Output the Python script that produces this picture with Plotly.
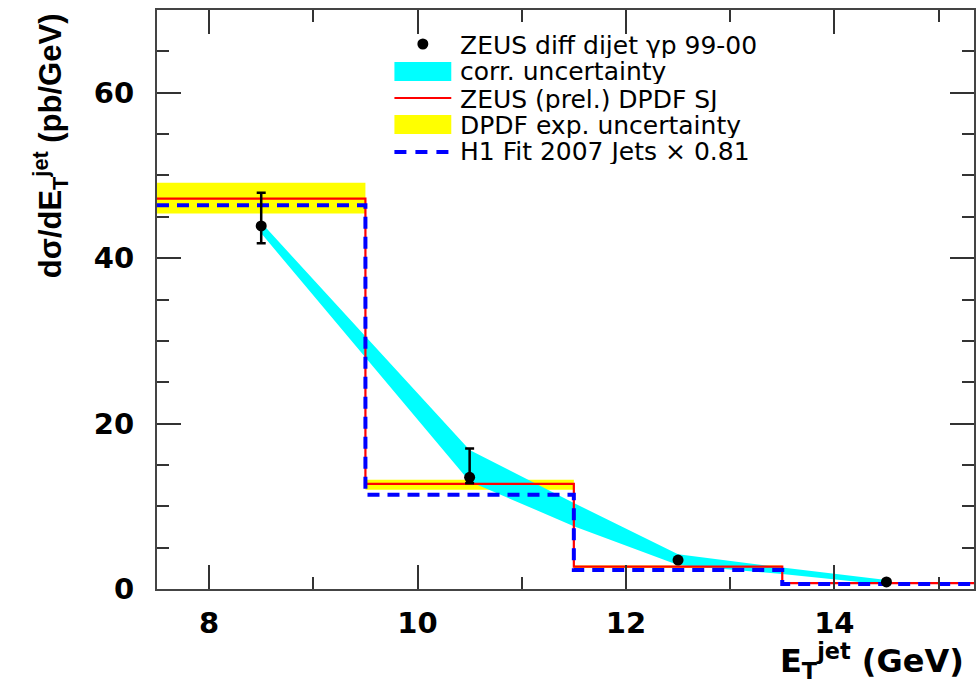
import plotly.graph_objects as go

# ---------------- data ----------------
bin_edges = [7.5, 9.5, 11.5, 13.5, 15.5]

data_x = [8.5, 10.5, 12.5, 14.5]
data_y = [43.9, 13.5, 3.5, 0.85]
data_err_up = [4.0, 3.5, 0.0, 0.0]
data_err_down = [2.1, 0.7, 0.0, 0.0]

band_x = [8.5, 10.5, 11.5, 12.5, 13.5, 14.5]
band_hi = [44.3, 16.8, 10.4, 4.2, 2.6, 1.1]
band_lo = [43.0, 13.0, 7.6, 2.9, 1.8, 0.5]

dpdf_sj = [47.2, 12.7, 2.7, 0.7]
dpdf_lo = [45.4, 12.0, 2.55, 0.6]
dpdf_hi = [49.1, 13.2, 2.85, 0.8]
h1_fit = [46.4, 11.4, 2.3, 0.6]

x_ticks = [8, 10, 12, 14]
y_ticks = [0, 20, 40, 60]

legend_labels = [
    "ZEUS diff dijet γp 99-00",
    "corr. uncertainty",
    "ZEUS (prel.) DPDF SJ",
    "DPDF exp. uncertainty",
    "H1 Fit 2007 Jets × 0.81",
]

# ---------------- figure ----------------
W, H = 976, 683
ML, MR, MT, MB = 157, 0, 10, 94
PW, PH = W - ML - MR, H - MT - MB


def px(xs):
    """screen pixel x -> paper x"""
    return (xs - ML) / PW


def py(ys):
    """screen pixel y -> paper y"""
    return (H - MB - ys) / PH


def steps(vals):
    return list(vals) + [vals[-1]]


FONT = "Liberation Sans, Arial, Helvetica, sans-serif"
WFONT = "DejaVu Sans, Verdana, sans-serif"

fig = go.Figure()

# yellow DPDF experimental uncertainty (step band)
fig.add_trace(go.Scatter(x=bin_edges, y=steps(dpdf_lo), mode="lines",
                         line=dict(width=0, shape="hv", color="#FFFF00"),
                         showlegend=False, hoverinfo="skip"))
fig.add_trace(go.Scatter(x=bin_edges, y=steps(dpdf_hi), mode="lines",
                         line=dict(width=0, shape="hv", color="#FFFF00"),
                         fill="tonexty", fillcolor="#FFFF00",
                         name=legend_labels[3], showlegend=False))

# cyan correlated uncertainty band
fig.add_trace(go.Scatter(x=band_x + band_x[::-1], y=band_hi + band_lo[::-1],
                         mode="lines", line=dict(width=0, color="#00FFFF"),
                         fill="toself", fillcolor="#00FFFF",
                         name=legend_labels[1], showlegend=False))

# red ZEUS DPDF SJ histogram
fig.add_trace(go.Scatter(x=bin_edges, y=steps(dpdf_sj), mode="lines",
                         line=dict(width=2.2, shape="hv", color="#FF0000"),
                         name=legend_labels[2], showlegend=False))

# blue dashed H1 fit histogram
fig.add_trace(go.Scatter(x=bin_edges, y=steps(h1_fit), mode="lines",
                         line=dict(width=4, shape="hv", color="#0000FF", dash="12px,8px"),
                         name=legend_labels[4], showlegend=False))

# data points
fig.add_trace(go.Scatter(x=data_x, y=data_y, mode="markers",
                         marker=dict(color="black", size=11, symbol="circle"),
                         error_y=dict(type="data", symmetric=False,
                                      array=data_err_up, arrayminus=data_err_down,
                                      color="black", thickness=2.5, width=4.5),
                         name=legend_labels[0], showlegend=False))

axis_common = dict(
    showline=True, linecolor="#444444", linewidth=2, mirror="ticks",
    ticks="inside", tickcolor="#333333", tickwidth=1.5,
    showgrid=False, zeroline=False,
    tickfont=dict(family=WFONT, size=29, color="black", weight="bold"),
)

fig.update_xaxes(range=[7.5, 15.34], tickvals=x_ticks, ticklen=24,
                 minor=dict(ticks="inside", dtick=1, tick0=7, ticklen=12,
                            tickcolor="#333333", tickwidth=1.5),
                 ticklabelstandoff=7, **axis_common)
fig.update_yaxes(range=[0, 70], tickvals=y_ticks, ticklen=24,
                 minor=dict(ticks="inside", dtick=5, tick0=0, ticklen=12,
                            tickcolor="#333333", tickwidth=1.5),
                 ticklabelstandoff=15, **axis_common)

annotations = []
shapes = []

# axis titles
annotations.append(dict(
    text="<b>dσ/dE<sub>T</sub><sup>jet</sup> (pb/GeV)</b>",
    xref="paper", yref="paper", x=px(50), y=py(146),
    xanchor="center", yanchor="middle", textangle=-90, showarrow=False,
    font=dict(family=FONT, size=31, color="black")))
annotations.append(dict(
    text="<b>E<sub>T</sub><sup>jet</sup> (GeV)</b>",
    xref="paper", yref="paper", x=px(968), y=py(661),
    xanchor="right", yanchor="middle", showarrow=False, height=40,
    font=dict(family=WFONT, size=32, color="black")))

# manual legend
row_y = [44, 71, 98, 124, 151]
sym_x0, sym_x1 = 395, 452
for lab, yy in zip(legend_labels, row_y):
    annotations.append(dict(
        text=lab, xref="paper", yref="paper", x=px(459), y=py(yy + 1),
        xanchor="left", yanchor="middle", showarrow=False, height=25,
        font=dict(family=WFONT, size=25, color="black")))

# marker symbol
shapes.append(dict(type="circle", xref="paper", yref="paper",
                   x0=px(418), x1=px(429), y0=py(49.5), y1=py(38.5),
                   fillcolor="black", line=dict(width=0)))
# cyan box
shapes.append(dict(type="rect", xref="paper", yref="paper",
                   x0=px(sym_x0), x1=px(sym_x1), y0=py(81), y1=py(62),
                   fillcolor="#00FFFF", line=dict(width=0)))
# red line
shapes.append(dict(type="line", xref="paper", yref="paper",
                   x0=px(sym_x0), x1=px(sym_x1), y0=py(98), y1=py(98),
                   line=dict(color="#FF0000", width=2)))
# yellow box
shapes.append(dict(type="rect", xref="paper", yref="paper",
                   x0=px(sym_x0), x1=px(sym_x1), y0=py(134), y1=py(115),
                   fillcolor="#FFFF00", line=dict(width=0)))
# blue dashed line
shapes.append(dict(type="line", xref="paper", yref="paper",
                   x0=px(sym_x0), x1=px(sym_x1 + 4), y0=py(152), y1=py(152),
                   line=dict(color="#0000FF", width=4, dash="12px,9px")))

fig.update_layout(
    width=W, height=H,
    margin=dict(l=ML, r=MR, t=MT, b=MB, pad=0),
    paper_bgcolor="white", plot_bgcolor="white",
    showlegend=False,
    annotations=annotations, shapes=shapes,
    font=dict(family=FONT, color="black"),
)

fig.write_html("out.html",
               config={"displayModeBar": False},
               post_script="document.body.style.margin='0';document.body.style.overflow='hidden';")
